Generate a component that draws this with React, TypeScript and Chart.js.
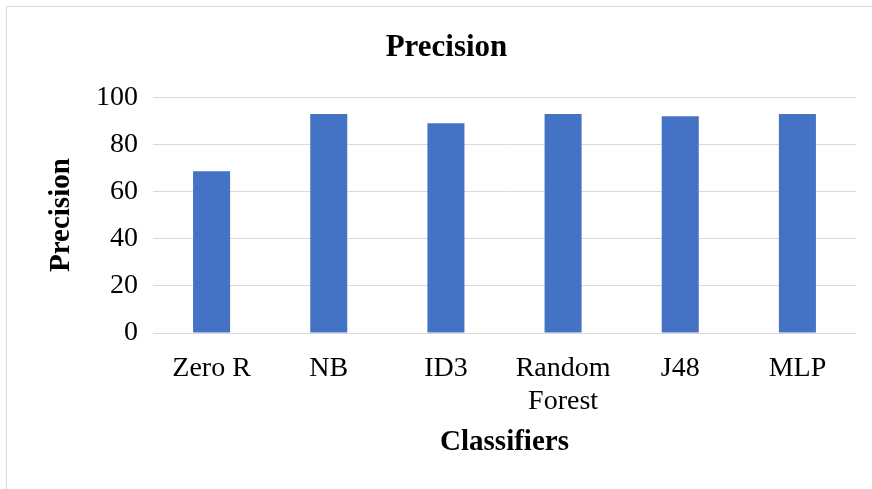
import React, { useEffect, useRef } from "react";
import { Chart, registerables } from "chart.js";

Chart.register(...registerables);

const categories: (string | string[])[] = ["Zero R", "NB", "ID3", ["Random", "Forest"], "J48", "MLP"];
const precisionValues: number[] = [68.6, 92.9, 88.9, 92.9, 91.9, 92.9];
const yTicks: number[] = [0, 20, 40, 60, 80, 100];

const chartTitle = "Precision";
const xAxisTitle = "Classifiers";
const yAxisTitle = "Precision";

const SERIF = "'Liberation Serif', 'Times New Roman', Times, serif";
const BAR_COLOR = "#4472C4";
const GRID_COLOR = "#d9d9d9";

export default function App() {
  const canvasRef = useRef<HTMLCanvasElement | null>(null);

  useEffect(() => {
    const canvas = canvasRef.current;
    if (!canvas) return;
    const chart = new Chart(canvas, {
      type: "bar",
      data: {
        labels: categories,
        datasets: [
          {
            label: yAxisTitle,
            data: precisionValues,
            backgroundColor: BAR_COLOR,
            borderWidth: 0,
            barPercentage: 0.316,
            categoryPercentage: 1,
          },
        ],
      },
      options: {
        responsive: false,
        animation: false,
        devicePixelRatio: 1,
        layout: { padding: { left: 37, right: 16, top: 0, bottom: 0 } },
        plugins: {
          legend: { display: false },
          tooltip: { enabled: false },
          title: {
            display: true,
            text: chartTitle,
            color: "#000",
            font: { family: SERIF, size: 31, weight: "bold", lineHeight: 1.2 },
            padding: { top: 29, bottom: 31 },
          },
        },
        scales: {
          x: {
            grid: { display: false, drawTicks: false },
            border: { display: false },
            ticks: {
              color: "#000",
              font: { family: SERIF, size: 28, lineHeight: 1.18 },
              padding: 19,
              maxRotation: 0,
              autoSkip: false,
            },
            title: {
              display: true,
              text: xAxisTitle,
              color: "#000",
              font: { family: SERIF, size: 29, weight: "bold", lineHeight: 1.2 },
              padding: { top: 0, bottom: 29 },
            },
            afterFit: (scale: any) => {
              scale.height = 156;
            },
          },
          y: {
            min: 0,
            max: 100,
            afterBuildTicks: (scale: any) => {
              scale.ticks = yTicks.map((v) => ({ value: v }));
            },
            grid: { color: GRID_COLOR, lineWidth: 1, drawTicks: false },
            border: { display: false },
            ticks: {
              color: "#000",
              font: { family: SERIF, size: 28 },
              padding: 15,
            },
            title: {
              display: true,
              text: yAxisTitle,
              color: "#000",
              font: { family: SERIF, size: 29, weight: "bold", lineHeight: 1.2 },
              padding: { top: 7, bottom: 0 },
            },
            afterFit: (scale: any) => {
              scale.width = 116;
            },
          },
        },
      },
    });
    return () => chart.destroy();
  }, []);

  return (
    <div
      style={{
        position: "fixed",
        left: 0,
        top: 0,
        width: 872,
        height: 489,
        overflow: "hidden",
        background: "#fff",
      }}
    >
      <div
        style={{
          position: "absolute",
          left: 6,
          top: 6,
          width: 900,
          height: 600,
          border: `1px solid ${GRID_COLOR}`,
        }}
      />
      <canvas
        ref={canvasRef}
        width={872}
        height={489}
        style={{ position: "absolute", left: 0, top: 0, width: 872, height: 489 }}
      />
    </div>
  );
}
